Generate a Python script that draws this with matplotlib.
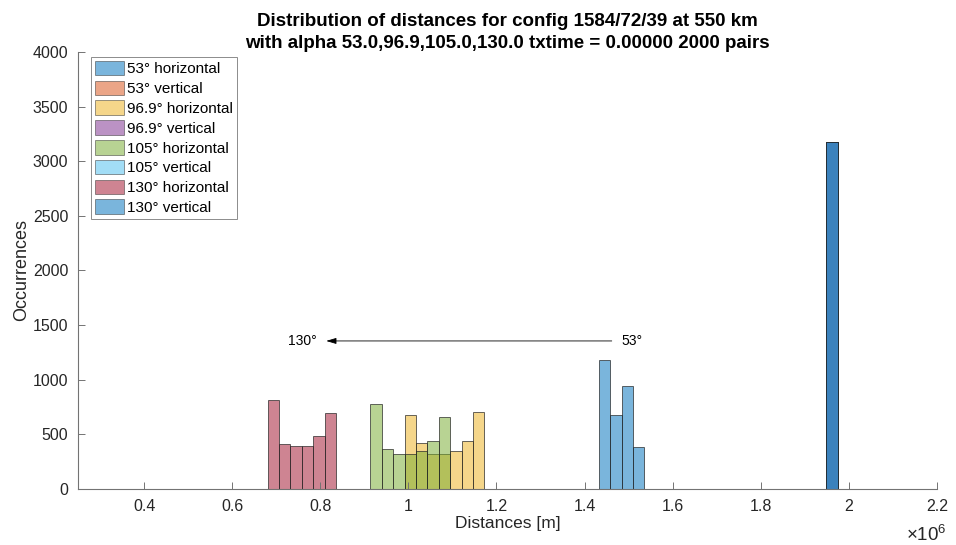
import matplotlib
matplotlib.use("Agg")
import matplotlib.pyplot as plt
from matplotlib.ticker import FuncFormatter, MultipleLocator
from matplotlib.patches import Patch

plt.rcParams['font.family'] = ['Liberation Sans', 'DejaVu Sans']
plt.rcParams['mathtext.fontset'] = 'custom'
plt.rcParams['mathtext.rm'] = 'Liberation Sans'
plt.rcParams['mathtext.it'] = 'Liberation Sans'

# Histogram data (bin width in metres, first bin edge and counts per series)
bin_width = 25900.0

labels = ["53° horizontal", "53° vertical", "96.9° horizontal", "96.9° vertical",
          "105° horizontal", "105° vertical", "130° horizontal", "130° vertical"]

first_edges = [1432200.0, 1948900.0, 991300.0, 1948900.0,
               913600.0, 1948900.0, 680500.0, 1948900.0]

counts_53_h = [1178, 673, 940, 388]
counts_53_v = [3175]
counts_96_h = [677, 418, 317, 317, 345, 439, 702]
counts_96_v = [3175]
counts_105_h = [775, 363, 317, 317, 345, 439, 656]
counts_105_v = [3175]
counts_130_h = [818, 415, 390, 390, 485, 700]
counts_130_v = [3175]

all_counts = [counts_53_h, counts_53_v, counts_96_h, counts_96_v,
              counts_105_h, counts_105_v, counts_130_h, counts_130_v]

# default line colour order (cycles after seven entries)
colors = [(0.000, 0.447, 0.741), (0.850, 0.325, 0.098), (0.929, 0.694, 0.125),
          (0.494, 0.184, 0.556), (0.466, 0.674, 0.188), (0.301, 0.745, 0.933),
          (0.635, 0.078, 0.184), (0.000, 0.447, 0.741)]
face_alpha = 0.52

x_ticks = [0.4e6, 0.6e6, 0.8e6, 1.0e6, 1.2e6, 1.4e6, 1.6e6, 1.8e6, 2.0e6, 2.2e6]

fig = plt.figure(figsize=(9.56, 5.45), dpi=100)
ax = fig.add_axes([0.0816, 0.1028, 0.8985, 0.8018])

handles = []
for lab, start, cnt, col in zip(labels, first_edges, all_counts, colors):
    lefts = [start + i * bin_width for i in range(len(cnt))]
    fc = (*col, face_alpha)
    ax.bar(lefts, cnt, width=bin_width, align='edge', color=fc,
           edgecolor=(0.15, 0.15, 0.15, 0.7), linewidth=0.7)
    handles.append(Patch(facecolor=fc, edgecolor=(0.15, 0.15, 0.15, 0.55),
                         linewidth=0.6, label=lab))

ax.set_xlim(0.25e6, 2.2e6)
ax.set_ylim(0, 4000)
ax.set_xticks(x_ticks)
ax.xaxis.set_major_formatter(FuncFormatter(lambda v, p: f"{v / 1e6:g}"))
ax.yaxis.set_major_locator(MultipleLocator(500))

for side in ('top', 'right'):
    ax.spines[side].set_visible(False)
for side in ('left', 'bottom'):
    ax.spines[side].set_color('0.45')
    ax.spines[side].set_linewidth(0.8)
ax.tick_params(direction='in', length=5, width=0.7, color='0.45',
               labelsize=11.5, labelcolor='0.15')
ax.tick_params(axis='x', pad=7)
ax.tick_params(axis='y', pad=7)

ax.set_xlabel("Distances [m]", fontsize=12.5, color='0.15', labelpad=2)
ax.set_ylabel("Occurrences", fontsize=13, color='0.15', labelpad=2)
ax.set_title("Distribution of distances for config 1584/72/39 at 550 km\n"
             "with alpha 53.0,96.9,105.0,130.0 txtime = 0.00000 2000 pairs",
             fontsize=13.5, fontweight='bold', linespacing=1.4, pad=3)

fig.text(0.99, 0.0, r"$\times10^{6}$", ha='right', va='bottom',
         fontsize=13.5, color='0.15')

# arrow from the 53° cluster towards the 130° cluster
ax.annotate("", xy=(0.8135e6, 1355), xytext=(1.4617e6, 1355),
            arrowprops=dict(arrowstyle='-|>,head_length=0.6,head_width=0.18',
                            color='black', lw=0.6, shrinkA=0, shrinkB=0))
ax.text(1.507e6, 1355, "53°", ha='center', va='center', fontsize=10)
ax.text(0.759e6, 1355, "130°", ha='center', va='center', fontsize=10)

leg = ax.legend(handles=handles, loc='upper left',
                bbox_to_anchor=(0.0151, 0.9886), borderaxespad=0,
                fontsize=11, labelspacing=0.28, handlelength=1.9,
                handleheight=1.1, handletextpad=0.2, borderpad=0.25,
                fancybox=False, framealpha=1, edgecolor='0.55')
leg.get_frame().set_linewidth(0.7)

fig.savefig("out.png", dpi=100)
